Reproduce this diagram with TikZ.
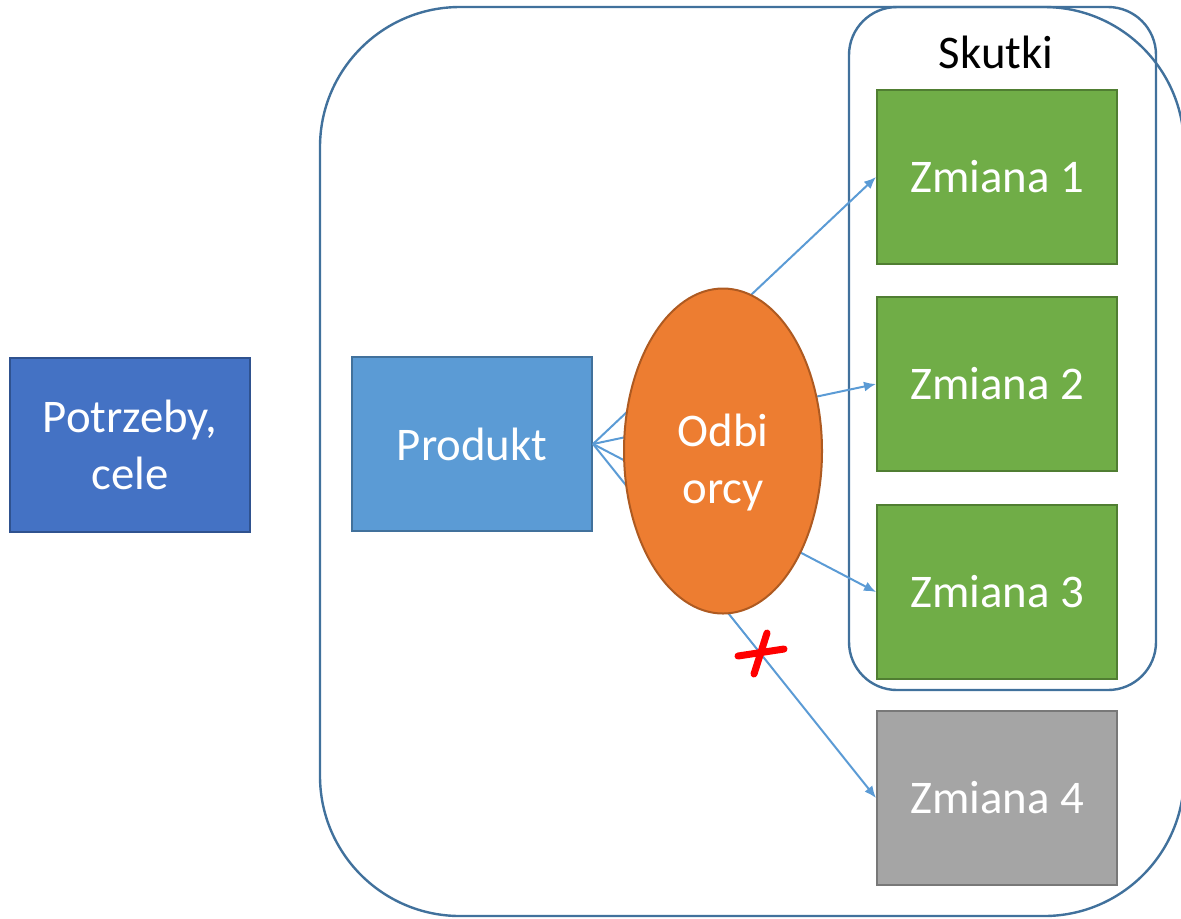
\documentclass[tikz,border=0pt]{standalone}
\usepackage{fontspec}
\setmainfont{Carlito}
\usepackage{tikz}
\usetikzlibrary{shapes.geometric,arrows.meta}
\definecolor{needblue}{HTML}{4472C4}
\definecolor{needline}{HTML}{2F528F}
\definecolor{prodblue}{HTML}{5B9BD5}
\definecolor{prodline}{HTML}{41719C}
\definecolor{usrorange}{HTML}{ED7D31}
\definecolor{usrline}{HTML}{AE5A21}
\definecolor{chgreen}{HTML}{70AD47}
\definecolor{chgline}{HTML}{507E32}
\definecolor{chgray}{HTML}{A5A5A5}
\definecolor{chgrayline}{HTML}{787878}
\tikzstyle{block} = [draw, rectangle, line width=1pt, minimum height=87pt, minimum width=120pt, inner sep=0pt, text=white, align=center]
\tikzstyle{change} = [block, fill=chgreen, draw=chgline]
\tikzstyle{frame} = [draw=prodline, line width=1.2pt]
\tikzstyle{link} = [->, draw=prodblue, line width=1pt]

\begin{document}
\begin{tikzpicture}[x=0.5pt, y=-0.5pt, >={Latex[length=6pt,width=5pt]}, font=\fontsize{23.4}{28.5}\selectfont]
	\useasboundingbox (0,0) rectangle (1181,918);
	\draw[frame, rounded corners=70pt] (320,7) rectangle (1184,916);
	\draw[frame, rounded corners=24pt] (849,7) rectangle (1156,690);

	\node (POTRZEBY) [block, fill=needblue, draw=needline] at (130,445) {Potrzeby,\\cele};
	\node (PRODUKT) [block, fill=prodblue, draw=prodline] at (472,444) {Produkt};
	\node (SKUTKI) at (996,52) {Skutki};
	\node (ZMIANA_1) [change] at (997,177) {Zmiana 1};
	\node (ZMIANA_2) [change] at (997,384) {Zmiana 2};
	\node (ZMIANA_3) [change] at (997,592) {Zmiana 3};
	\node (ZMIANA_4) [block, fill=chgray, draw=chgrayline] at (997,798) {Zmiana 4};

	\draw[link](PRODUKT.east)-{}(ZMIANA_1.west);
	\draw[link](PRODUKT.east)-{}(ZMIANA_2.west);
	\draw[link](PRODUKT.east)-{}(ZMIANA_3.west);
	\draw[link](PRODUKT.east)-{}(ZMIANA_4.west);

	\node (ODBIORCY) [ellipse, draw=usrline, fill=usrorange, line width=1pt, minimum width=99pt, minimum height=162.5pt, inner sep=0pt, text=white, align=center, text height=56pt] at (723,451) {Odbi\\orcy};

	% skreslenie
	\coordinate (CROSS) at (761,653);
	\draw[red, line width=3.5pt, line cap=round] (CROSS) ++(-23,3) -- ++(46,-7);
	\draw[red, line width=3.5pt, line cap=round] (CROSS) ++(6,-20) -- ++(-13,41);
\end{tikzpicture}
\end{document}
